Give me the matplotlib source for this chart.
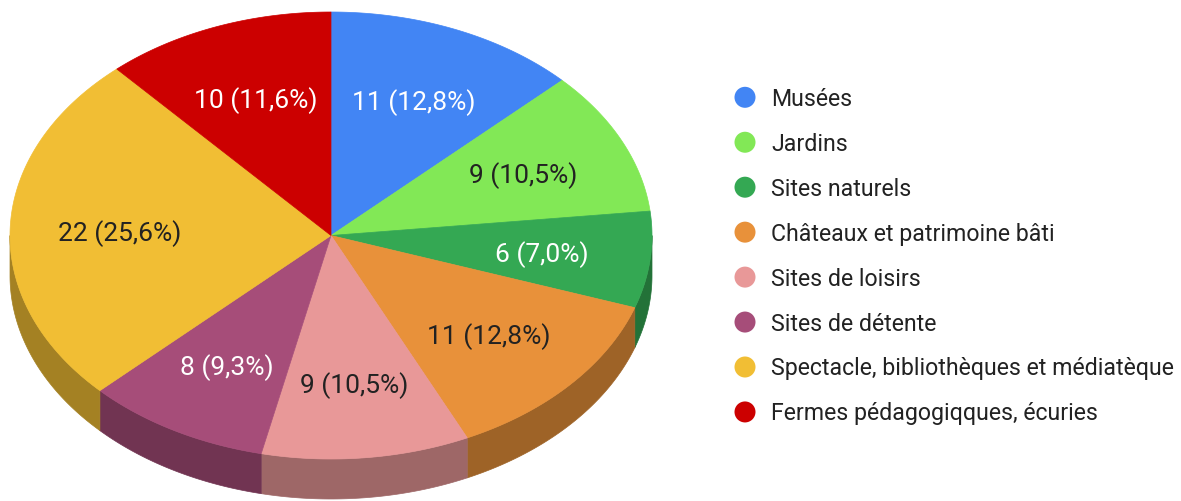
import numpy as np
import matplotlib
matplotlib.use("Agg")
import matplotlib.pyplot as plt
from matplotlib.patches import Polygon, Circle
import matplotlib.colors as mcolors

categories = ["Musées", "Jardins", "Sites naturels", "Châteaux et patrimoine bâti",
              "Sites de loisirs", "Sites de détente",
              "Spectacle, bibliothèques et médiatèque", "Fermes pédagogiqques, écuries"]
values = [11, 9, 6, 11, 9, 8, 22, 10]
colors = ["#4285F4", "#82E856", "#34A853", "#E8913A", "#E89898", "#A64D79", "#F1BE34", "#CC0000"]
label_colors = ["white", "#222222", "white", "#222222", "#222222", "white", "#222222", "white"]

W, H = 1181, 502
fig = plt.figure(figsize=(W / 100, H / 100), dpi=100)
ax = fig.add_axes([0, 0, 1, 1])
ax.set_xlim(0, W)
ax.set_ylim(H, 0)
ax.axis("off")

cx, cy, rx, ry, depth = 331, 236.5, 321, 223.5, 40
FONT = "Roboto"
FS_PIE = 19
FS_LEG = 16.7

total = sum(values)
bounds = np.concatenate([[0], np.cumsum(values)]) / total * 360.0


def pt(t):
    r = np.radians(t)
    return cx + rx * np.sin(r), cy - ry * np.cos(r)


def darker(c, f=0.68):
    r, g, b = mcolors.to_rgb(c)
    return (r * f, g * f, b * f)

# sides
for i, v in enumerate(values):
    a0, a1 = bounds[i], bounds[i + 1]
    s0, s1 = max(a0, 90), min(a1, 270)
    if s1 > s0:
        ts = np.linspace(s0, s1, 100)
        xs, ys = pt(ts)
        poly = np.vstack([np.column_stack([xs, ys]),
                          np.column_stack([xs[::-1], ys[::-1] + depth])])
        ax.add_patch(Polygon(poly, closed=True, fc=darker(colors[i]), ec=darker(colors[i]), lw=0.5))

# tops
for i, v in enumerate(values):
    a0, a1 = bounds[i], bounds[i + 1]
    ts = np.linspace(a0, a1, 200)
    xs, ys = pt(ts)
    poly = np.vstack([[cx, cy], np.column_stack([xs, ys])])
    ax.add_patch(Polygon(poly, closed=True, fc=colors[i], ec=colors[i], lw=0.5))
    mid = (a0 + a1) / 2
    r = np.radians(mid)
    lx = cx + 0.66 * rx * np.sin(r)
    ly = cy - 0.66 * ry * np.cos(r)
    pct = f"{v / total * 100:.1f}".replace(".", ",")
    ax.text(lx, ly + 2, f"{v} ({pct}%)", ha="center", va="center", color=label_colors[i],
            fontsize=FS_PIE, family=FONT)

# legend
for i, c in enumerate(categories):
    y = 98.3 + 44.95 * i
    ax.add_patch(Circle((745, y), 10.5, fc=colors[i], ec="none"))
    ax.text(771, y + 1, c, ha="left", va="center", fontsize=FS_LEG, family=FONT, color="#222222")

fig.savefig("out.png", dpi=100)
